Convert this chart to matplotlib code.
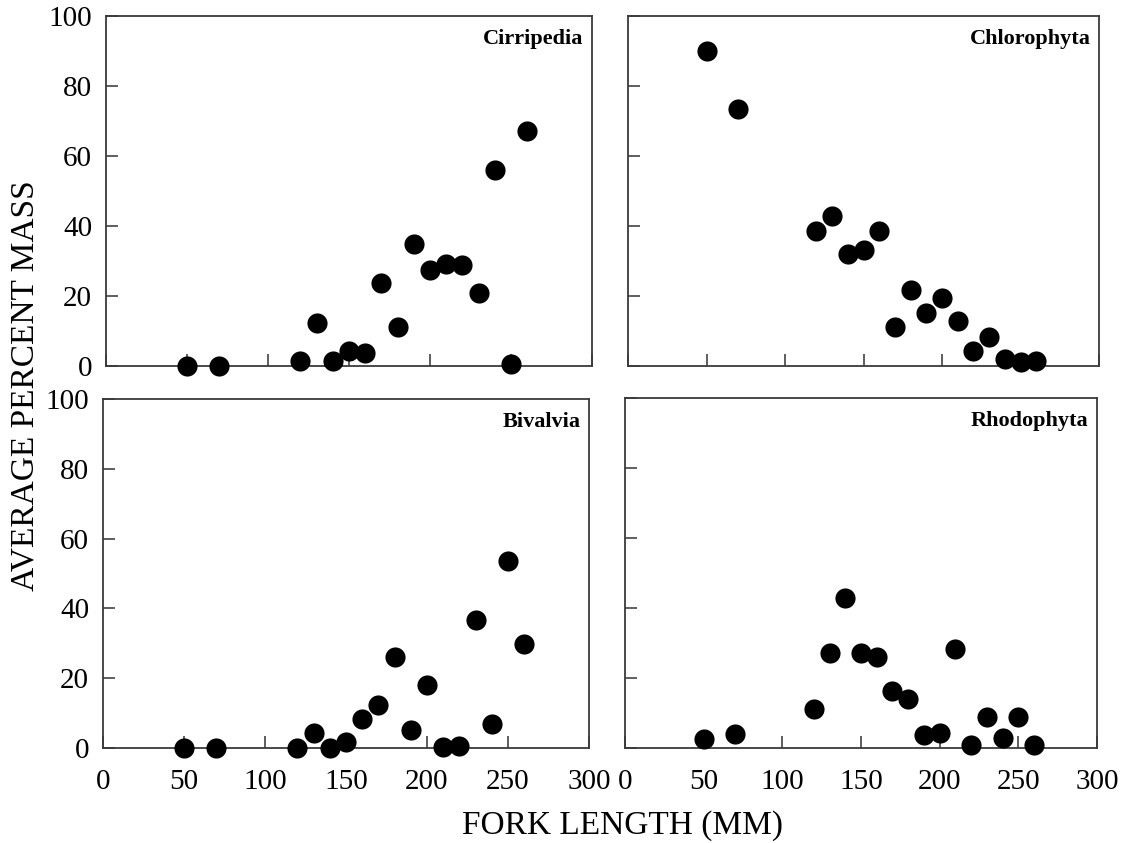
import matplotlib
matplotlib.use("Agg")
import matplotlib.pyplot as plt

plt.rcParams['font.family'] = ['Liberation Serif', 'DejaVu Serif']

# fork length classes (mm), shared by all four panels
fork_length = [50, 70, 120, 130, 140, 150, 160, 170, 180, 190, 200, 210, 220, 230, 240, 250, 260]

# average percent mass per prey group
cirripedia = [0, 0, 1.3, 12.4, 1.4, 4.4, 3.8, 23.7, 11.1, 34.9, 27.4, 29.1, 28.8, 20.8, 56.1, 0.5, 67.0]
chlorophyta = [90.0, 73.4, 38.7, 42.9, 32.0, 33.1, 38.5, 11.2, 21.6, 15.0, 19.5, 12.9, 4.4, 8.3, 2.0, 1.2, 1.4]
bivalvia = [0, 0, 0, 4.4, 0, 1.8, 8.4, 12.3, 26.2, 5.3, 18.0, 0.2, 0.6, 36.7, 6.9, 53.5, 29.9]
rhodophyta = [2.6, 4.0, 11.2, 27.2, 43.0, 27.2, 25.9, 16.2, 14.1, 3.8, 4.2, 28.4, 0.8, 8.8, 2.8, 8.8, 0.9]

W, H = 1138, 843
fig = plt.figure(figsize=(W / 100, H / 100), dpi=100)


def px_rect(left, top, right, bottom):
    return [left / W, 1 - bottom / H, (right - left) / W, (bottom - top) / H]


panels = [
    (cirripedia, 'Cirripedia', px_rect(106, 16, 592, 366), True, False),
    (chlorophyta, 'Chlorophyta', px_rect(628, 16, 1099, 366), False, False),
    (bivalvia, 'Bivalvia', px_rect(103, 399, 589, 748), True, True),
    (rhodophyta, 'Rhodophyta', px_rect(625, 398, 1097, 748), False, True),
]

for values, name, rect, show_y, show_x in panels:
    ax = fig.add_axes(rect)
    ax.plot(fork_length, values, 'o', color='black', markersize=14.5,
            markeredgewidth=0, clip_on=False, zorder=3)
    ax.set_xlim(0, 300)
    ax.set_ylim(0, 100)
    ax.set_xticks([0, 50, 100, 150, 200, 250, 300])
    ax.set_yticks([0, 20, 40, 60, 80, 100])
    ax.tick_params(direction='in', length=8.5, width=1.1, color='#333333',
                   labelsize=21, top=False, right=False)
    ax.tick_params(axis='y', pad=10, labelleft=show_y)
    ax.tick_params(axis='x', pad=15, labelbottom=show_x)
    for sp in ax.spines.values():
        sp.set_color('#3a3a3a')
        sp.set_linewidth(1.3)
    ax.text(0.982, 0.962, name, transform=ax.transAxes, ha='right', va='top',
            fontsize=16, fontweight='bold')

fig.text(25 / W, 1 - 386 / H, 'AVERAGE PERCENT MASS', rotation=90,
         ha='center', va='center', fontsize=24)
fig.text(622 / W, 1 - 826 / H, 'FORK LENGTH (MM)', ha='center', va='center',
         fontsize=24)

fig.savefig('out.png', dpi=100)
